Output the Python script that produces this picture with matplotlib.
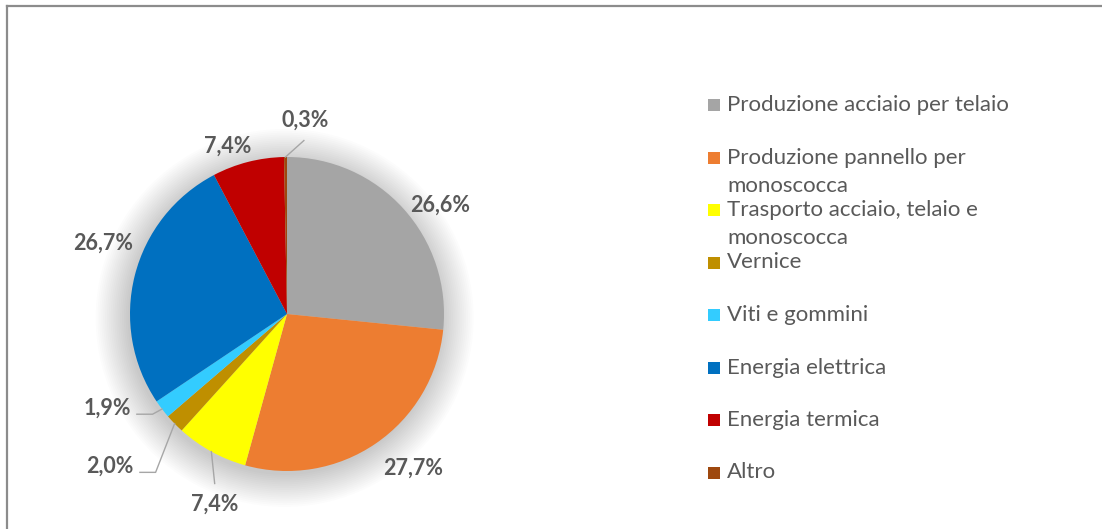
import numpy as np
import matplotlib
matplotlib.use("Agg")
import matplotlib.pyplot as plt
from matplotlib.lines import Line2D
from matplotlib.patches import Circle, Rectangle

categories = [
    "Produzione acciaio per telaio",
    "Produzione pannello per\nmonoscocca",
    "Trasporto acciaio, telaio e\nmonoscocca",
    "Vernice",
    "Viti e gommini",
    "Energia elettrica",
    "Energia termica",
    "Altro",
]
values = [26.6, 27.7, 7.4, 2.0, 1.9, 26.7, 7.4, 0.3]
value_labels = ["26,6%", "27,7%", "7,4%", "2,0%", "1,9%", "26,7%", "7,4%", "0,3%"]
colors = ["#A5A5A5", "#ED7D31", "#FFFF00", "#BF8F00", "#33CCFF", "#0070C0", "#C00000", "#9E480E"]

# label placement (radius factor, angle shift in degrees) - style only
label_r = [1.197, 1.267, 1.294, 1.486, 1.293, 1.256, 1.134, 1.24]
label_shift = [-6.6, 4.9, 8.0, -3.6, -9.7, -6.9, 5.0, -5.8]
leader = [False, False, True, True, True, False, False, True]

plt.rcParams['font.family'] = ['Lato', 'DejaVu Sans']

W, H = 1102, 529
fig = plt.figure(figsize=(W / 100, H / 100), dpi=100)
fig.patch.set_facecolor("white")

# frame (left & top edges visible)
fig.add_artist(Line2D([7 / W, 7 / W], [0, 1 - 6 / H], transform=fig.transFigure, color="#8C8C8C", lw=1.6))
fig.add_artist(Line2D([7 / W, 1], [1 - 6 / H, 1 - 6 / H], transform=fig.transFigure, color="#8C8C8C", lw=1.6))

cx, cy, R = 287, 314, 157
s = 1.6
half = R * s
ax = fig.add_axes([(cx - half) / W, (H - cy - half) / H, 2 * half / W, 2 * half / H])

# soft shadow
for i in range(18):
    ax.add_patch(Circle((-0.015, -0.025), 1.0 + 0.012 * i, color="black", alpha=0.010, lw=0, zorder=0))

wedges, _ = ax.pie(values, colors=colors, startangle=90, counterclock=False,
                   wedgeprops=dict(linewidth=0.0, zorder=2))
for w in wedges:
    w.set_zorder(2)
ax.set_xlim(-s, s)
ax.set_ylim(-s, s)
ax.set_aspect("equal")
ax.axis("off")

for w, lab, r, sh, ld in zip(wedges, value_labels, label_r, label_shift, leader):
    mid = np.deg2rad((w.theta1 + w.theta2) / 2)
    a = mid + np.deg2rad(sh)
    tx, ty = r * np.cos(a), r * np.sin(a)
    ax.text(tx, ty, lab, ha="center", va="center", fontsize=15.5, fontweight="bold", color="#595959", zorder=5)
    if ld:
        x0, y0 = np.cos(mid), np.sin(mid)
        if abs(ty) > 1.05 and abs(tx) < 0.6:
            # near-vertical leader ending just before text
            x1, y1 = tx + (x0 - tx) * 0.05, ty + 0.13 * np.sign(y0 - ty)
            ax.plot([x0, x1], [y0, y1], color="#A6A6A6", lw=1, clip_on=False, zorder=4)
        else:
            xe = tx + 0.19
            ye = ty - 0.04
            xm = xe + 0.10
            ax.plot([x0, xm, xe], [y0, ye, ye], color="#A6A6A6", lw=1, clip_on=False, zorder=4)

# legend
lx, ly0, step, line_gap = 708, 105, 52.5, 28
for i, (cat, c) in enumerate(zip(categories, colors)):
    y = ly0 + i * step
    nlines = cat.count("\n") + 1
    fig.add_artist(Rectangle(((lx) / W, 1 - (y + 6) / H), 12 / W, 12 / H, transform=fig.transFigure,
                             facecolor=c, edgecolor="none"))
    yt = y + (nlines - 1) * line_gap / 2
    fig.text((lx + 19) / W, 1 - yt / H, cat, ha="left", va="center",
             fontsize=16, color="#595959", linespacing=1.5)

fig.savefig("out.png", dpi=100, facecolor="white")
